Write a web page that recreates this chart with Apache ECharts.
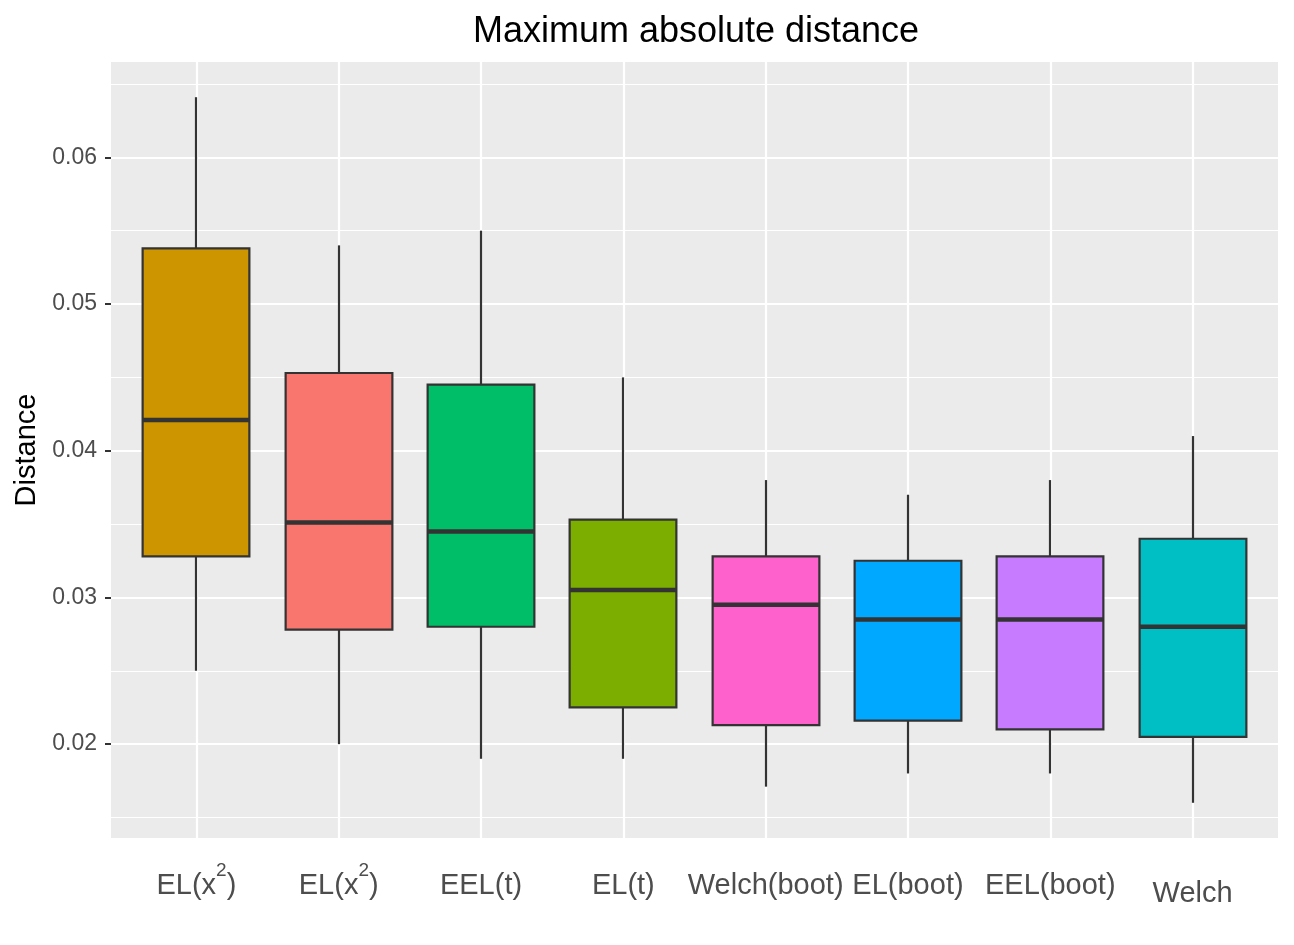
<!DOCTYPE html>
<html>
<head>
<meta charset="utf-8">
<script src="https://cdn.jsdelivr.net/npm/echarts@6/dist/echarts.min.js"></script>
<style>
  html, body { margin: 0; padding: 0; background: #fff; }
  #chart { width: 1294px; height: 945px; }
</style>
</head>
<body>
<div id="chart"></div>
<script>
// --- data ---
var categories = ['EL(x^2)', 'EL(x^2)', 'EEL(t)', 'EL(t)', 'Welch(boot)', 'EL(boot)', 'EEL(boot)', 'Welch'];
var whiskerLow  = [0.0250, 0.0200, 0.0190, 0.0190, 0.0171, 0.0180, 0.0180, 0.0160];
var q1          = [0.0328, 0.0278, 0.0280, 0.0225, 0.0213, 0.0216, 0.0210, 0.0205];
var medians     = [0.0421, 0.0351, 0.0345, 0.0305, 0.0295, 0.0285, 0.0285, 0.0280];
var q3          = [0.0538, 0.0453, 0.0445, 0.0353, 0.0328, 0.0325, 0.0328, 0.0340];
var whiskerHigh = [0.0641, 0.0540, 0.0550, 0.0450, 0.0380, 0.0370, 0.0380, 0.0410];
var fills = ['#CD9600', '#F8766D', '#00BE67', '#7CAE00', '#FF61CC', '#00A9FF', '#C77CFF', '#00BFC4'];

var yMin = 0.0136, yMax = 0.0665;
var majorTicks = [0.02, 0.03, 0.04, 0.05, 0.06];
var minorTicks = [0.015, 0.025, 0.035, 0.045, 0.055, 0.065];

var boxData = categories.map(function(c, i) {
  return [i, whiskerLow[i], q1[i], medians[i], q3[i], whiskerHigh[i]];
});

// ggplot discrete axis runs 0.4..8.6; category band axis runs 0.5..8.5
var panelLeft = 111, panelRight = 16;
var unit = (1294 - panelLeft - panelRight) / 8.2;
var pad = unit * 0.1;

var ink = '#333333';
var grey = '#4D4D4D';

function renderBox(params, api) {
  var x = api.value(0);
  var pLo = api.coord([x, api.value(1)]);
  var pQ1 = api.coord([x, api.value(2)]);
  var pMed = api.coord([x, api.value(3)]);
  var pQ3 = api.coord([x, api.value(4)]);
  var pHi = api.coord([x, api.value(5)]);
  var half = api.size([1, 0])[0] * 0.75 / 2;
  var cx = Math.round(pMed[0]);
  return {
    type: 'group',
    children: [
      { type: 'line', shape: { x1: cx, y1: pQ1[1], x2: cx, y2: pLo[1] },
        style: { stroke: ink, lineWidth: 2.2 } },
      { type: 'line', shape: { x1: cx, y1: pQ3[1], x2: cx, y2: pHi[1] },
        style: { stroke: ink, lineWidth: 2.2 } },
      { type: 'rect', shape: { x: cx - half, y: pQ3[1], width: half * 2, height: pQ1[1] - pQ3[1] },
        style: { fill: fills[params.dataIndex], stroke: ink, lineWidth: 2.2 } },
      { type: 'line', shape: { x1: cx - half, y1: pMed[1], x2: cx + half, y2: pMed[1] },
        style: { stroke: ink, lineWidth: 4.5 } }
    ]
  };
}

var chart = echarts.init(document.getElementById('chart'), null, { renderer: 'canvas' });
chart.setOption({
  animation: false,
  textStyle: { fontFamily: 'Liberation Sans, Arial, sans-serif' },
  title: {
    text: 'Maximum absolute distance',
    left: 691,
    textAlign: 'center',
    top: 9,
    textStyle: { fontSize: 36, fontWeight: 'normal', color: '#000' }
  },
  grid: [
    { left: panelLeft, right: panelRight, top: 62, bottom: 107,
      show: true, backgroundColor: '#EBEBEB', borderWidth: 0 },
    { left: panelLeft + pad, right: panelRight + pad, top: 62, bottom: 107 }
  ],
  xAxis: [
    { gridIndex: 0, type: 'value', min: 0, max: 1, show: false },
    {
      gridIndex: 1,
      type: 'category',
      data: categories,
      axisLine: { show: false },
      axisTick: { alignWithLabel: true, length: 6, lineStyle: { color: ink, width: 2 } },
      splitLine: { show: true, alignWithLabel: true, lineStyle: { color: '#fff', width: 2.2 } },
      axisLabel: {
        interval: 0,
        margin: 23,
        fontSize: 29,
        lineHeight: 49,
        color: grey,
        formatter: function(v) {
          if (v === 'Welch') return '{w|Welch}';
          return v.replace('^2', '{sup|2}');
        },
        rich: {
          sup: { fontSize: 19, lineHeight: 20, padding: [0, 0, 29, 0], color: grey },
          w: { fontSize: 29, lineHeight: 65, color: grey }
        }
      }
    }
  ],
  yAxis: [
    {
      gridIndex: 0,
      type: 'value',
      min: yMin,
      max: yMax,
      name: 'Distance',
      nameLocation: 'middle',
      nameGap: 70,
      nameTextStyle: { fontSize: 29, color: '#000' },
      axisLine: { show: false },
      axisTick: { show: true, length: 6, customValues: majorTicks, lineStyle: { color: ink, width: 2 } },
      axisLabel: {
        customValues: majorTicks,
        fontSize: 23,
        margin: 14,
        color: grey,
        formatter: function(v) { return v.toFixed(2); }
      },
      splitLine: { show: true, lineStyle: { color: '#fff', width: 2.2 } }
    },
    {
      gridIndex: 0,
      type: 'value',
      min: yMin,
      max: yMax,
      axisLine: { show: false },
      axisTick: { show: false, customValues: minorTicks },
      axisLabel: { show: false, customValues: minorTicks },
      splitLine: { show: true, lineStyle: { color: '#fff', width: 1.1 } }
    },
    {
      gridIndex: 1,
      type: 'value',
      min: yMin,
      max: yMax,
      show: false,
      splitLine: { show: false }
    }
  ],
  series: [
    {
      type: 'custom',
      xAxisIndex: 1,
      yAxisIndex: 2,
      renderItem: renderBox,
      encode: { x: 0, y: [1, 2, 3, 4, 5] },
      data: boxData,
      silent: true,
      z: 5
    }
  ]
});
</script>
</body>
</html>
